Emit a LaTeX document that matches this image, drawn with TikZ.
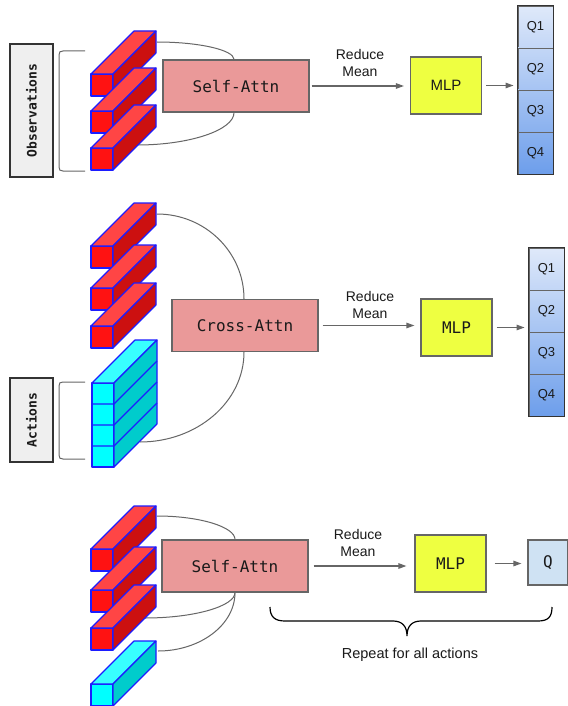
\documentclass[tikz,border=0pt]{standalone}
\usepackage{fontspec}
\newfontfamily\sansf{Liberation Sans}
\newfontfamily\monof{DejaVu Sans Mono}
\usetikzlibrary{arrows.meta}
\definecolor{redfront}{HTML}{FF1212}
\definecolor{redtop}{HTML}{FF4545}
\definecolor{redside}{HTML}{CC1010}
\definecolor{cyanfront}{HTML}{00FFFF}
\definecolor{cyantop}{HTML}{38FFFF}
\definecolor{cyanside}{HTML}{00CCCC}
\definecolor{barblue}{HTML}{1C1CFF}
\definecolor{attnfill}{HTML}{EA9999}
\definecolor{mlpfill}{HTML}{EEFF41}
\definecolor{boxgray}{HTML}{666666}
\definecolor{labfill}{HTML}{EFEFEF}
\definecolor{labdraw}{HTML}{333333}
\definecolor{qA}{HTML}{DFE9FA}
\definecolor{qE}{HTML}{6D9EEB}
\definecolor{qsingle}{HTML}{CFE2F3}
\definecolor{txt}{HTML}{1A1A1A}
\newcommand\drawbar[3]{%
  \filldraw[barface,fill=#3front] (#1,#2) rectangle ++(22,22);
  \filldraw[barface,fill=#3top] (#1,#2) -- ++(22,0) -- ++(43,-43) -- ++(-22,0) -- cycle;
  \filldraw[barface,fill=#3side] (#1+22,#2) -- ++(43,-43) -- ++(0,22) -- ++(-43,43) -- cycle;
}
\tikzset{
  barface/.style={draw=barblue,line width=1.1pt,line join=round},
  attn/.style={draw=boxgray,fill=attnfill,line width=1.2pt,minimum width=146pt,minimum height=52pt,inner sep=0pt,text=txt,font=\monof\fontsize{16}{18}\selectfont},
  mlpbox/.style={draw=boxgray,fill=mlpfill,line width=1.2pt,minimum width=71pt,minimum height=57pt,inner sep=0pt,text=txt},
  lab/.style={draw=labdraw,fill=labfill,line width=1.2pt,minimum height=43pt,inner sep=0pt,text=txt,font=\monof\bfseries\fontsize{13}{15}\selectfont},
  qcell/.style={draw=boxgray,line width=0.9pt,minimum width=35pt,minimum height=42pt,inner sep=0pt,text=txt,font=\sansf\fontsize{13}{15}\selectfont},
  qbox/.style={draw=boxgray,fill=qsingle,line width=1.2pt,minimum width=40pt,minimum height=45pt,inner sep=0pt,text=txt,font=\monof\fontsize{16}{18}\selectfont},
  qframe/.style={draw=labdraw,line width=1.3pt},
  redmean/.style={align=center,text=txt,font=\sansf\fontsize{14}{17.5}\selectfont},
  conn/.style={draw=boxgray,line width=1.2pt,-{Triangle[length=8pt,width=5.5pt]}},
  arcline/.style={draw=boxgray,line width=1pt},
  brk/.style={draw=boxgray,line width=1pt},
}
\begin{document}
\begin{tikzpicture}[x=1pt,y=-1pt]
\useasboundingbox (0,0) rectangle (567,706);
\fill[white] (0,0) rectangle (567,706);

% ================= Panel 1 =================
\node[lab,minimum width=133pt,rotate=90] (obs) at (31.5,110.5) {Observations};
\draw[brk] (85,51) -- (63,51) .. controls (60,51) and (59,52) .. (59,55) -- (59,167) .. controls (59,170) and (60,171) .. (63,171) -- (85,171);
\node[attn] (sa1) at (236,86) {Self-Attn};
\coordinate (b1t) at (157,42);
\coordinate (b1b) at (137,145);
\draw[arcline] (b1t) .. controls (199,42) and (234,50) .. ([xshift=-2pt]sa1.north);
\draw[arcline] ([xshift=-2pt]sa1.south) .. controls (234,130) and (190,145) .. (b1b);
\drawbar{91}{74}{red}
\drawbar{91}{111}{red}
\drawbar{91}{148}{red}
\node[mlpbox,font=\sansf\fontsize{15}{18}\selectfont] (mlp1) at (446,85.5) {MLP};
\node[redmean] (rm1) at (360,63) {Reduce\\Mean};
\draw[conn,shorten <=2pt,shorten >=6pt] (sa1.east) -- (mlp1.west |- sa1.east);
\node[qcell,top color=qA,bottom color=qA!75!qE] (q11) at (535.5,27) {Q1};
\node[qcell,top color=qA!75!qE,bottom color=qA!50!qE] (q12) at (535.5,69) {Q2};
\node[qcell,top color=qA!50!qE,bottom color=qA!25!qE] (q13) at (535.5,111) {Q3};
\node[qcell,top color=qA!25!qE,bottom color=qE] (q14) at (535.5,153) {Q4};
\draw[qframe] (q11.north west) rectangle (q14.south east);
\draw[conn,shorten <=4pt,shorten >=4pt] (mlp1.east) -- (mlp1.east -| q11.west);

% ================= Panel 2 =================
\node[lab,minimum width=84pt,rotate=90] (act) at (31.5,420) {Actions};
\draw[brk] (85,382) -- (63,382) .. controls (60,382) and (59,383) .. (59,386) -- (59,455) .. controls (59,458) and (60,459) .. (63,459) -- (85,459);
\node[attn] (ca) at (245,325.5) {Cross-Attn};
\coordinate (b2t) at (157,214);
\coordinate (b2b) at (140,442);
\draw[arcline] (b2t) .. controls (205,214) and (244,252) .. ([xshift=-1pt]ca.north);
\draw[arcline] ([xshift=-1pt]ca.south) .. controls (244,402) and (197,442) .. (b2b);
\drawbar{91}{246}{red}
\drawbar{91}{288}{red}
\drawbar{91}{326}{red}
% stacked action block
\filldraw[barface,fill=cyanfront] (92,383) rectangle (114,467);
\filldraw[barface,fill=cyantop] (92,383) -- (114,383) -- (157,340) -- (135,340) -- cycle;
\filldraw[barface,fill=cyanside] (114,383) -- (157,340) -- (157,424) -- (114,467) -- cycle;
\foreach \yy in {404,425,446} {
  \draw[barface] (92,\yy) -- (114,\yy) -- (157,\yy-43);
}
\node[mlpbox,font=\monof\fontsize{16}{18}\selectfont] (mlp2) at (456.5,327.5) {MLP};
\node[redmean] (rm2) at (370,305) {Reduce\\Mean};
\draw[conn,shorten <=4pt,shorten >=6pt] (ca.east) -- (mlp2.west |- ca.east);
\node[qcell,top color=qA,bottom color=qA!75!qE] (q21) at (546.5,269) {Q1};
\node[qcell,top color=qA!75!qE,bottom color=qA!50!qE] (q22) at (546.5,311) {Q2};
\node[qcell,top color=qA!50!qE,bottom color=qA!25!qE] (q23) at (546.5,353) {Q3};
\node[qcell,top color=qA!25!qE,bottom color=qE] (q24) at (546.5,395) {Q4};
\draw[qframe] (q21.north west) rectangle (q24.south east);
\draw[conn,shorten <=4pt,shorten >=4pt] (mlp2.east) -- (mlp2.east -| q21.west);

% ================= Panel 3 =================
\node[attn] (sa3) at (235,566) {Self-Attn};
\coordinate (b3t) at (157,516);
\coordinate (b3m) at (145,618);
\coordinate (b3c) at (158,651);
\draw[arcline] (b3t) .. controls (200,516) and (235,527) .. (sa3.north);
\draw[arcline] (sa3.south) .. controls (235,606) and (195,618) .. (b3m);
\draw[arcline] (sa3.south) .. controls (235,625) and (200,651) .. (b3c);
\drawbar{91}{549}{red}
\drawbar{91}{590}{red}
\drawbar{91}{628}{red}
\drawbar{91}{684}{cyan}
\node[mlpbox,font=\monof\fontsize{16}{18}\selectfont] (mlp3) at (450.5,563.5) {MLP};
\node[redmean] (rm3) at (358,543) {Reduce\\Mean};
\draw[conn,shorten <=5pt,shorten >=8pt] (sa3.east) -- (mlp3.west |- sa3.east);
\node[qbox] (q3) at (548,562.5) {Q};
\draw[conn,shorten <=8pt,shorten >=6pt] (mlp3.east) -- (mlp3.east -| q3.west);
% brace
\draw[line width=1.2pt,black] (270,607) .. controls (270,617) and (275,621) .. (285,621) -- (393,621) .. controls (402,621) and (407,626) .. (407,636) .. controls (407,626) and (412,621) .. (421,621) -- (538,621) .. controls (548,621) and (552,617) .. (552,607);
\node[text=txt,font=\sansf\fontsize{14.5}{17}\selectfont] (rep) at (410,655) {Repeat for all actions};
\end{tikzpicture}
\end{document}
